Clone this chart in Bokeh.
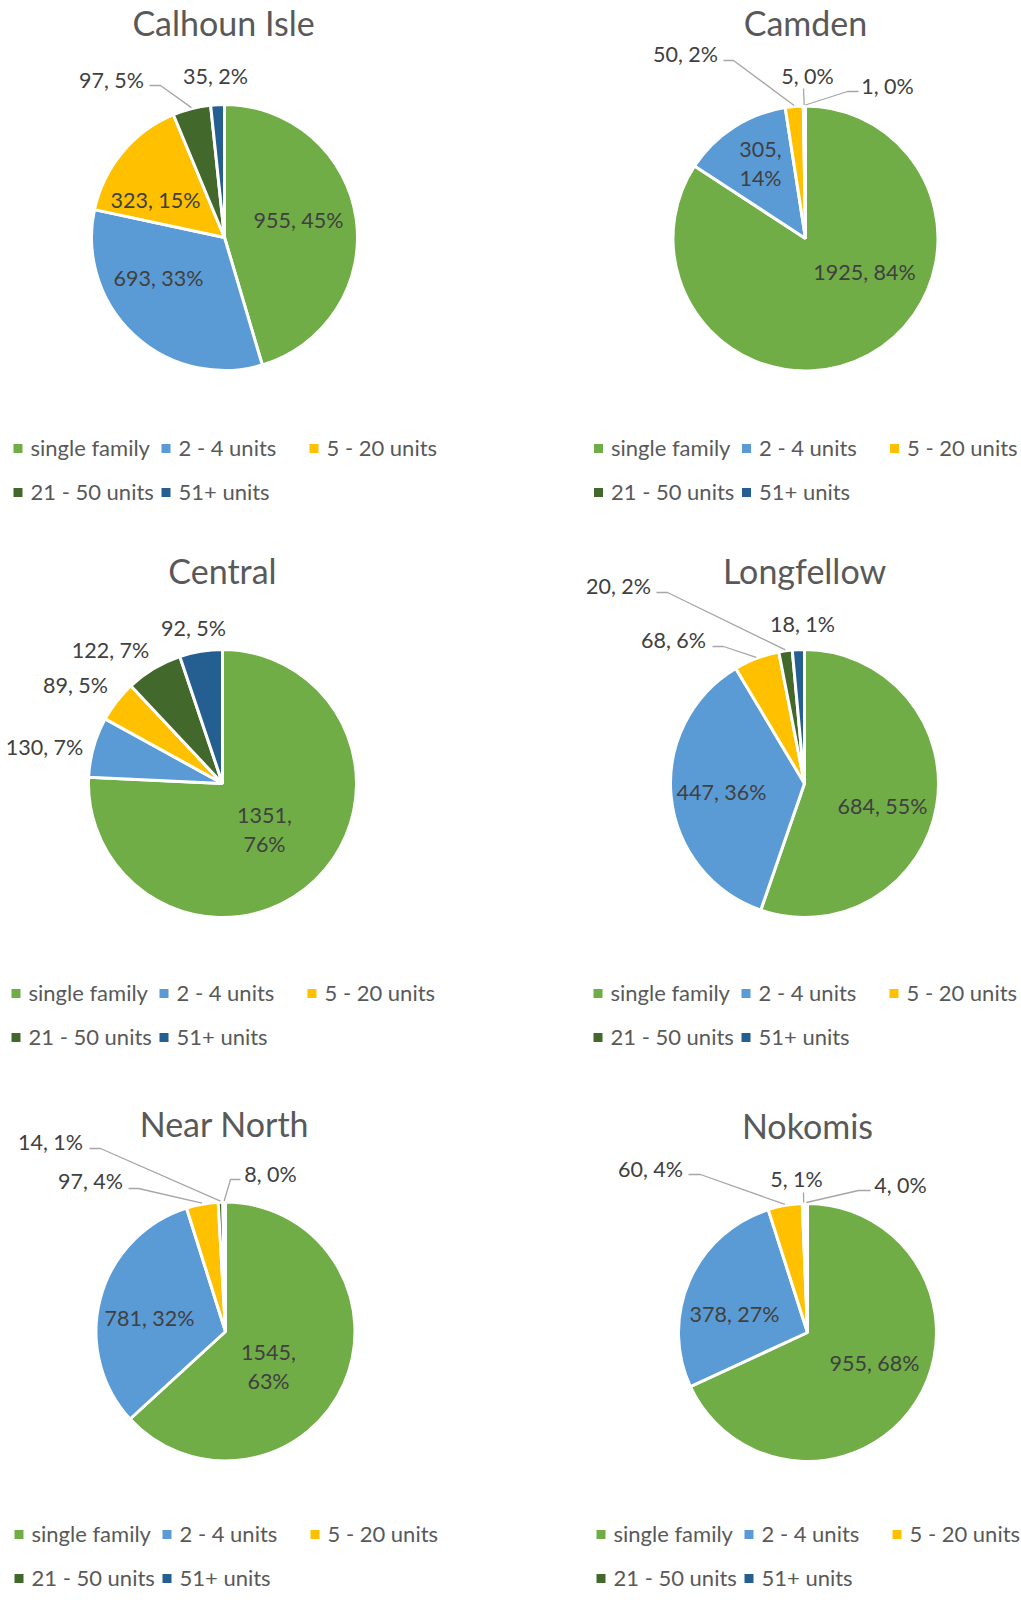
import math
from bokeh.plotting import figure
from bokeh.models import ColumnDataSource, Range1d
from bokeh.core.properties import value
from bokeh.embed import file_html
from bokeh.resources import INLINE

# ---------------- data ----------------
categories = ["single family", "2 - 4 units", "5 - 20 units", "21 - 50 units", "51+ units"]
titles = ["Calhoun Isle", "Camden", "Central", "Longfellow", "Near North", "Nokomis"]

calhoun_isle = [955, 693, 323, 97, 35]
calhoun_isle_pct = [45, 33, 15, 5, 2]
camden = [1925, 305, 50, 5, 1]
camden_pct = [84, 14, 2, 0, 0]
central = [1351, 130, 89, 122, 92]
central_pct = [76, 7, 5, 7, 5]
longfellow = [684, 447, 68, 20, 18]
longfellow_pct = [55, 36, 6, 2, 1]
near_north = [1545, 781, 97, 14, 8]
near_north_pct = [63, 32, 4, 1, 0]
nokomis = [955, 378, 60, 5, 4]
nokomis_pct = [68, 27, 4, 1, 0]

series = [calhoun_isle, camden, central, longfellow, near_north, nokomis]
series_pct = [calhoun_isle_pct, camden_pct, central_pct, longfellow_pct, near_north_pct, nokomis_pct]

# ---------------- styles ----------------
colors = ["#70AD47", "#5B9BD5", "#FFC000", "#43682B", "#255E91"]
FONT = value("Lato")
TITLE_COLOR = "#595959"
LABEL_COLOR = "#404040"
LEGEND_COLOR = "#595959"
LEADER_COLOR = "#A6A6A6"

# ---------------- layout (page pixel coordinates, y downwards) ----------------
layouts = [
    dict(title=(223, 22), center=(224, 237), r=133, legend=(17.5, 448),
         labels=[(298, 219, False, None), (158, 277, False, None), (155, 199, False, None),
                 (111, 79, False, [(149, 85), (160, 85)]), (215, 75, False, None)]),
    dict(title=(805, 22), center=(805, 238), r=132.5, legend=(598, 448),
         labels=[(864, 271, False, None), (760, 163, True, None),
                 (685, 53, False, [(723, 60), (733, 60)]),
                 (807, 75, False, [(803, 88)]),
                 (887, 85, False, [(858, 91), (847, 91)])]),
    dict(title=(222, 569.5), center=(222, 783), r=134, legend=(15.5, 993),
         labels=[(264, 829.5, True, None), (44, 746, False, None), (75, 684, False, None),
                 (110, 649, False, None), (193, 627, False, None)]),
    dict(title=(804, 569.5), center=(804, 783), r=134, legend=(597.5, 993),
         labels=[(882, 805, False, None), (721, 791, False, None),
                 (673, 639, False, [(712, 646), (723, 646)]),
                 (618, 585, False, [(656, 592), (667, 592)]),
                 (802, 623, False, None)]),
    dict(title=(224, 1123), center=(225, 1331), r=129.5, legend=(18.5, 1534),
         labels=[(268, 1366, True, None), (149, 1317, False, None),
                 (90, 1180, False, [(128, 1188), (138, 1188)]),
                 (50, 1141, False, [(89, 1148), (100, 1148)]),
                 (270, 1173, False, [(240, 1179), (230, 1179)])]),
    dict(title=(807, 1125), center=(807, 1332), r=129, legend=(600.5, 1534),
         labels=[(874, 1362, False, None), (734, 1313, False, None),
                 (650, 1168, False, [(688, 1174), (700, 1174)]),
                 (796, 1178, False, [(803, 1192)]),
                 (900, 1184, False, [(870, 1190), (858, 1190)])]),
]

PAGE_W, PAGE_H = 1021, 1600


def Y(y):
    return PAGE_H - y


p = figure(width=PAGE_W, height=PAGE_H, x_range=Range1d(0, PAGE_W), y_range=Range1d(0, PAGE_H),
           output_backend="svg", toolbar_location=None, min_border=0,
           x_axis_location=None, y_axis_location=None)
p.grid.visible = False
p.outline_line_color = None
p.background_fill_color = "white"

for title, vals, pcts, lay in zip(titles, series, series_pct, layouts):
    cx, cy = lay["center"]
    r = lay["r"]
    total = float(sum(vals))
    cum = [0.0]
    for v in vals:
        cum.append(cum[-1] + v / total)
    starts = [math.pi / 2 - 2 * math.pi * cum[i + 1] for i in range(len(vals))]
    ends = [math.pi / 2 - 2 * math.pi * cum[i] for i in range(len(vals))]
    src = ColumnDataSource(dict(x=[cx] * len(vals), y=[Y(cy)] * len(vals),
                                start=starts, end=ends, color=colors, cat=categories))
    p.wedge(x="x", y="y", radius=r, start_angle="start", end_angle="end",
            fill_color="color", line_color="white", line_width=3, source=src)

    # title
    tx, ty = lay["title"]
    p.text(x=[tx], y=[Y(ty)], text=[title], text_font=FONT, text_font_size="34px",
           text_color=TITLE_COLOR, text_align="center", text_baseline="middle")

    # data labels
    lx, ly, lt = [], [], []
    lead_xs, lead_ys = [], []
    for i, (v, pc, (x, y, two, leader)) in enumerate(zip(vals, pcts, lay["labels"])):
        if two:
            lx += [x, x]
            ly += [Y(y - 14.25), Y(y + 14.25)]
            lt += [f"{v},", f"{pc}%"]
        else:
            lx.append(x)
            ly.append(Y(y))
            lt.append(f"{v}, {pc}%")
        if leader:
            mid = (cum[i] + cum[i + 1]) / 2 * 2 * math.pi
            ex = cx + (r + 1) * math.sin(mid)
            ey = cy - (r + 1) * math.cos(mid)
            pts = list(leader) + [(ex, ey)]
            lead_xs.append([pt[0] for pt in pts])
            lead_ys.append([Y(pt[1]) for pt in pts])
    p.text(x=lx, y=ly, text=lt, text_font=FONT, text_font_size="21.5px",
           text_color=LABEL_COLOR, text_align="center", text_baseline="middle")
    if lead_xs:
        p.multi_line(xs=lead_xs, ys=lead_ys, line_color=LEADER_COLOR, line_width=1.3)

    # legend
    gx, gy = lay["legend"]
    offsets = [(0, 0), (148, 0), (296, 0), (0, 44), (148, 44)]
    mx = [gx + o[0] for o in offsets]
    my = [Y(gy + o[1]) for o in offsets]
    p.rect(x=mx, y=my, width=9, height=9, fill_color=colors, line_color=None)
    p.text(x=[m + 12.5 for m in mx], y=[Y(gy + o[1] - 1) for o in offsets], text=categories,
           text_font=FONT, text_font_size="22px", text_color=LEGEND_COLOR,
           text_align="left", text_baseline="middle")

open("out.html", "w").write(file_html(p, INLINE))
